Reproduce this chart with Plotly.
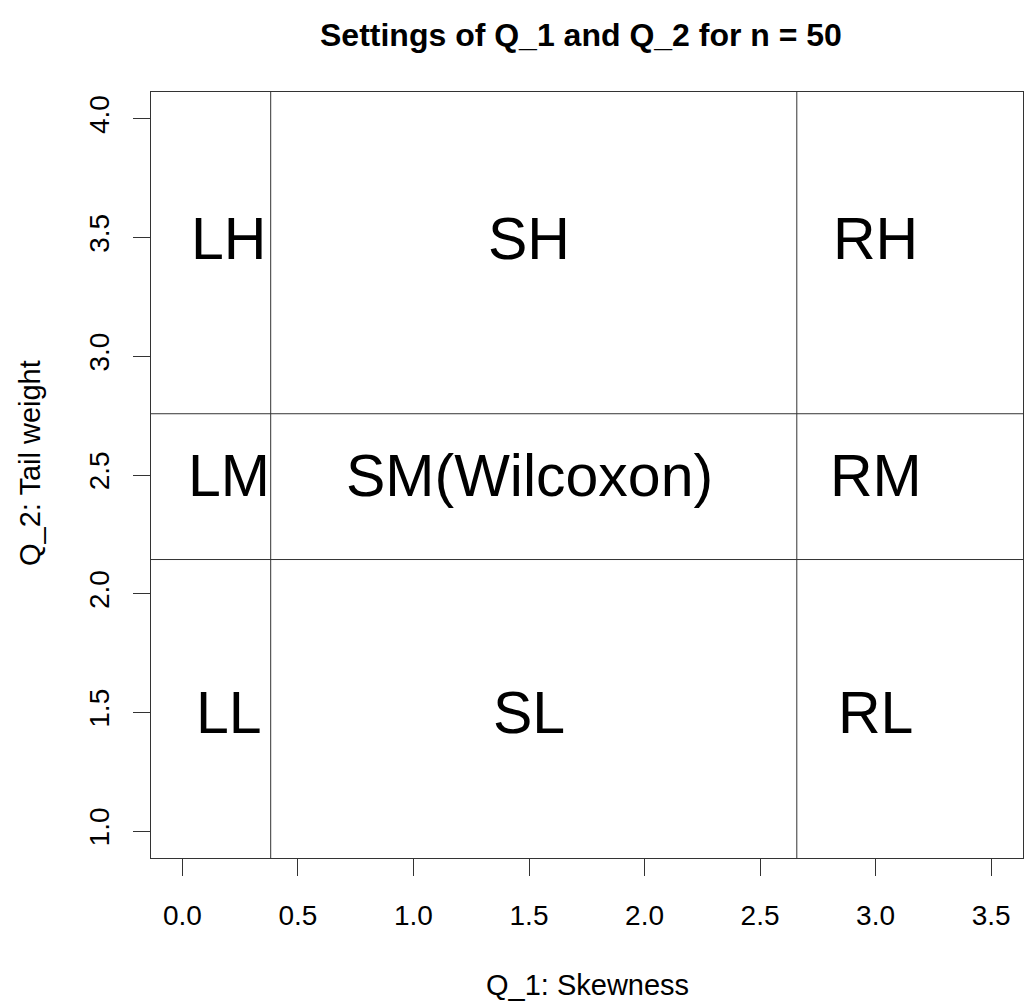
import plotly.graph_objects as go

# Data
region_labels = ["LH", "SH", "RH", "LM", "SM(Wilcoxon)", "RM", "LL", "SL", "RL"]
region_x = [0.2, 1.5, 3.0, 0.2, 1.5, 3.0, 0.2, 1.5, 3.0]
region_y = [3.5, 3.5, 3.5, 2.5, 2.5, 2.5, 1.5, 1.5, 1.5]
skew_cutoffs = [0.382, 2.659]
tail_cutoffs = [2.144, 2.758]
x_ticks = [0.0, 0.5, 1.0, 1.5, 2.0, 2.5, 3.0, 3.5]
x_ticklabels = ["0.0", "0.5", "1.0", "1.5", "2.0", "2.5", "3.0", "3.5"]
y_ticks = [1.0, 1.5, 2.0, 2.5, 3.0, 3.5, 4.0]
y_ticklabels = ["1.0", "1.5", "2.0", "2.5", "3.0", "3.5", "4.0"]

FONT = "Liberation Sans, Arial, Helvetica, sans-serif"
LINE = "#333333"

fig = go.Figure()

annotations = []
for lab, xv, yv in zip(region_labels, region_x, region_y):
    annotations.append(dict(
        text=lab, xref="x", yref="y", x=xv, y=yv, xanchor="center", yanchor="middle",
        yshift=-1, showarrow=False,
        font=dict(family=FONT, size=59, color="black"),
    ))

annotations += [
    dict(text="<b>Settings of Q_1 and Q_2 for n = 50</b>", xref="paper", yref="paper",
         x=0.5, y=1, yshift=57, xshift=-6, xanchor="center", yanchor="middle", showarrow=False,
         font=dict(family=FONT, size=32, color="black")),
    dict(text="Q_1: Skewness", xref="paper", yref="paper",
         x=0.5, y=0, yshift=-127, xanchor="center", yanchor="middle", showarrow=False,
         font=dict(family=FONT, size=29, color="black")),
    dict(text="Q_2: Tail weight", xref="paper", yref="paper",
         x=0, y=0.5, xshift=-121, yshift=12, xanchor="center", yanchor="middle",
         textangle=-90, showarrow=False,
         font=dict(family=FONT, size=29, color="black")),
]

shapes = []
for xv in skew_cutoffs:
    shapes.append(dict(type="line", xref="x", yref="paper", x0=xv, x1=xv, y0=0, y1=1,
                       line=dict(color=LINE, width=1)))
for yv in tail_cutoffs:
    shapes.append(dict(type="line", xref="paper", yref="y", x0=0, x1=1, y0=yv, y1=yv,
                       line=dict(color=LINE, width=1)))

fig.update_layout(
    width=1027, height=1006,
    margin=dict(l=151, r=4, t=92, b=148),
    paper_bgcolor="white", plot_bgcolor="white",
    font=dict(family=FONT, color="black"),
    shapes=shapes,
    annotations=annotations,
    showlegend=False,
)

fig.update_xaxes(
    range=[-0.136, 3.638], tickvals=x_ticks, ticktext=x_ticklabels,
    ticks="outside", ticklen=17, tickwidth=1, tickcolor=LINE,
    showline=True, mirror=True, linecolor=LINE, linewidth=1,
    showgrid=False, zeroline=False,
    tickfont=dict(family=FONT, size=28, color="black"),
    ticklabelstandoff=15,
)
fig.update_yaxes(
    range=[0.887, 4.113], tickvals=y_ticks, ticktext=y_ticklabels,
    ticks="outside", ticklen=17, tickwidth=1, tickcolor=LINE,
    showline=True, mirror=True, linecolor=LINE, linewidth=1,
    showgrid=False, zeroline=False, tickangle=-90,
    tickfont=dict(family=FONT, size=28, color="black"),
    ticklabelstandoff=13,
)

fig.write_html("out.html")
